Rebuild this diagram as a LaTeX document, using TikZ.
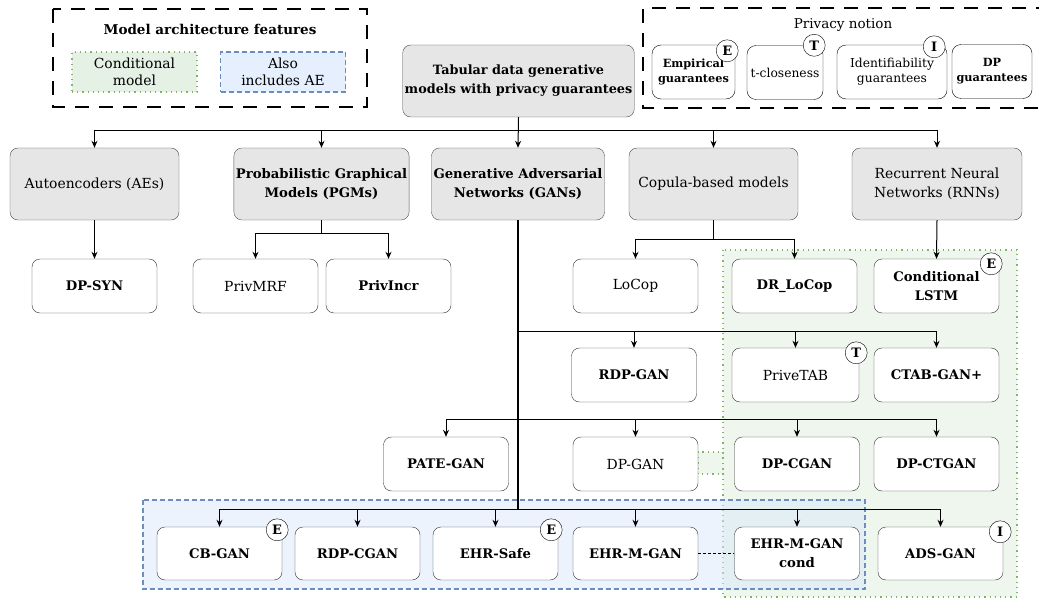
\documentclass[tikz,border=0pt]{standalone}
\usepackage{fontspec}
\setmainfont{DejaVu Serif}
\usetikzlibrary{arrows.meta}
\definecolor{famfill}{HTML}{E6E6E6}
\definecolor{condline}{HTML}{82B366}
\definecolor{condfill}{HTML}{D5E8D4}
\definecolor{aeline}{HTML}{6C8EBF}
\definecolor{aefill}{HTML}{DAE8FC}
\newcommand{\boxfont}{\fontsize{13.9}{19}\selectfont}
\newcommand{\boldfont}{\fontsize{13.2}{19}\selectfont\bfseries}
\newcommand{\keyfont}{\fontsize{12.3}{15}\selectfont}
\tikzset{
  family/.style={rectangle, rounded corners=8pt, draw=black!70, fill=famfill, minimum width=169pt, minimum height=72pt, inner sep=2pt, align=center, font=\boxfont},
  model/.style={rectangle, rounded corners=8pt, draw=black!80, fill=white, minimum width=125pt, minimum height=54pt, inner sep=2pt, align=center, font=\boxfont},
  strong/.style={font=\boldfont},
  badge/.style={circle, draw, fill=white, inner sep=0pt, minimum size=22pt, font=\fontsize{13}{15}\selectfont\bfseries},
  keybox/.style={rectangle, rounded corners=9pt, draw, fill=white, minimum height=54pt, inner sep=1pt, align=center, font=\keyfont},
  legendframe/.style={draw, line width=1.5pt, dash pattern=on 14pt off 10pt},
  condarea/.style={draw=condline, fill=condfill, fill opacity=0.4, line width=1.2pt, dash pattern=on 1.2pt off 4pt},
  aearea/.style={draw=aeline, fill=aefill, fill opacity=0.5, line width=1.2pt, dash pattern=on 5pt off 3pt},
  link/.style={->, line width=1pt},
}
\begin{document}
\begin{tikzpicture}[x=1pt, y=-1pt, >={Stealth[length=7pt,width=6pt]}]
\useasboundingbox (0,0) rectangle (1039,599);
\path [condarea] (723,250) rectangle (1017,597);
\path [condarea] (698,452) rectangle (723,474);
\path [aearea] (143,500) rectangle (865,589);
\draw [legendframe] (53,9) rectangle (367,107);
\draw [legendframe] (1050,8) -- (643,8) -- (643,108) -- (1050,108);
\node (archtitle) at (210,29) [font=\fontsize{13.5}{16}\selectfont\bfseries] {Model architecture features};
\node (condkey) at (134.5,72) [condarea, fill opacity=0.6, text opacity=1, minimum width=125pt, minimum height=40pt, align=center, font=\fontsize{13.9}{17}\selectfont] {Conditional\\model};
\node (aekey) at (283,72) [aearea, fill opacity=0.7, text opacity=1, minimum width=125pt, minimum height=40pt, align=center, font=\fontsize{13.9}{17}\selectfont] {Also\\includes AE};
\node (privtitle) at (843,25) [font=\fontsize{13.5}{16}\selectfont] {Privacy notion};
\node (empkey) at (693.5,72) [keybox, minimum width=83pt, font=\fontsize{11.3}{15}\selectfont\bfseries] {Empirical\\guarantees};
\node (tkey) at (785,72.5) [keybox, minimum width=76pt] {t-closeness};
\node (idkey) at (892,72) [keybox, minimum width=110pt] {Identifiability\\guarantees};
\node (dpkey) at (992,71.5) [keybox, minimum width=80pt, font=\fontsize{11.3}{15}\selectfont\bfseries] {DP\\guarantees};
\node (empkeyE) at ([shift={(-8,6)}]empkey.north east) [badge] {E};
\node (tkeyT) at ([shift={(-9,0)}]tkey.north east) [badge] {T};
\node (idkeyI) at ([shift={(-13,2)}]idkey.north east) [badge] {I};
\node (root) at (518.5,81) [family, minimum width=231pt, font=\fontsize{12.8}{19}\selectfont\bfseries] {Tabular data generative\\models with privacy guarantees};
\node (ae) at (94.5,184) [family] {Autoencoders (AEs)};
\node (pgm) at (321.5,184) [family, strong] {Probabilistic Graphical\\Models (PGMs)};
\node (gan) at (518,184) [family, minimum width=170pt, strong] {Generative Adversarial\\Networks (GANs)};
\node (copula) at (713.5,184) [family] {Copula-based models};
\node (rnn) at (937,184) [family, minimum width=170pt] {Recurrent Neural\\Networks (RNNs)};
\node (dpsyn) at (94.5,286) [model, strong] {DP-SYN};
\node (privmrf) at (255.5,286) [model] {PrivMRF};
\node (privincr) at (388.5,286) [model, strong] {PrivIncr};
\node (locop) at (635.5,286) [model] {LoCop};
\node (drlocop) at (794.5,286) [model, strong] {DR\_LoCop};
\node (condlstm) at (936.5,286) [model, strong] {Conditional\\LSTM};
\node (rdpgan) at (634,375) [model, strong] {RDP-GAN};
\node (privetab) at (795.5,375) [model, minimum width=127pt] {PriveTAB};
\node (ctabgan) at (936.5,375) [model, strong] {CTAB-GAN+};
\node (pategan) at (446,464) [model, strong] {PATE-GAN};
\node (dpgan) at (635.5,464) [model] {DP-GAN};
\node (dpcgan) at (797,464) [model, strong] {DP-CGAN};
\node (dpctgan) at (936.5,464) [model, strong] {DP-CTGAN};
\node (cbgan) at (219.5,553.5) [model, minimum height=53pt, strong] {CB-GAN};
\node (rdpcgan) at (357.5,553.5) [model, minimum height=53pt, strong] {RDP-CGAN};
\node (ehrsafe) at (495.5,553.5) [model, minimum height=53pt, strong] {EHR-Safe};
\node (ehrmgan) at (635.5,553.5) [model, minimum height=53pt, strong] {EHR-M-GAN};
\node (ehrcond) at (797,553.5) [model, minimum height=53pt, strong] {EHR-M-GAN\\cond};
\node (adsgan) at (940.5,553.5) [model, minimum height=53pt, strong] {ADS-GAN};
\node (condlstmE) at ([shift={(-8,5)}]condlstm.north east) [badge] {E};
\node (privetabT) at ([shift={(-3,5)}]privetab.north east) [badge] {T};
\node (cbganE) at ([shift={(-5,3)}]cbgan.north east) [badge] {E};
\node (ehrsafeE) at ([shift={(-7,3)}]ehrsafe.north east) [badge] {E};
\node (adsganI) at ([shift={(-3,5)}]adsgan.north east) [badge] {I};
\coordinate (gan3) at (518,331);
\coordinate (gan4) at (518,419);
\coordinate (gan5) at (518,509);
\draw [link] (root.south) -- ++(0,13) -| (ae.north);
\draw [link] (root.south) -- ++(0,13) -| (pgm.north);
\draw [link] (root.south) -- (gan.north);
\draw [link] (root.south) -- ++(0,13) -| (copula.north);
\draw [link] (root.south) -- ++(0,13) -| (rnn.north);
\draw [link] (ae.south) -- (dpsyn.north);
\draw [link] (pgm.south) -- ++(0,13) -| (privmrf.north);
\draw [link] (pgm.south) -- ++(0,13) -| (privincr.north);
\draw [link] (copula.south) -- ++(0,19) -| (locop.north);
\draw [link] (copula.south) -- ++(0,19) -| (drlocop.north);
\draw [link] (rnn.south) -- (condlstm.north);
\draw [line width=2pt] (gan.south) -- (gan5);
\draw [link] (gan3) -| (rdpgan.north);
\draw [link] (gan3) -| (privetab.north);
\draw [link] (gan3) -| (ctabgan.north);
\draw [link] (gan4) -| (pategan.north);
\draw [link] (gan4) -| (dpgan.north);
\draw [link] (gan4) -| (dpcgan.north);
\draw [link] (gan4) -| (dpctgan.north);
\draw [link] (gan5) -| (cbgan.north);
\draw [link] (gan5) -| (rdpcgan.north);
\draw [link] (gan5) -| (ehrsafe.north);
\draw [link] (gan5) -| (ehrmgan.north);
\draw [link] (gan5) -| (ehrcond.north);
\draw [link] (gan5) -| (adsgan.north);
\draw [densely dashed, line width=0.8pt] (ehrmgan) -- (ehrcond);
\end{tikzpicture}
\end{document}
